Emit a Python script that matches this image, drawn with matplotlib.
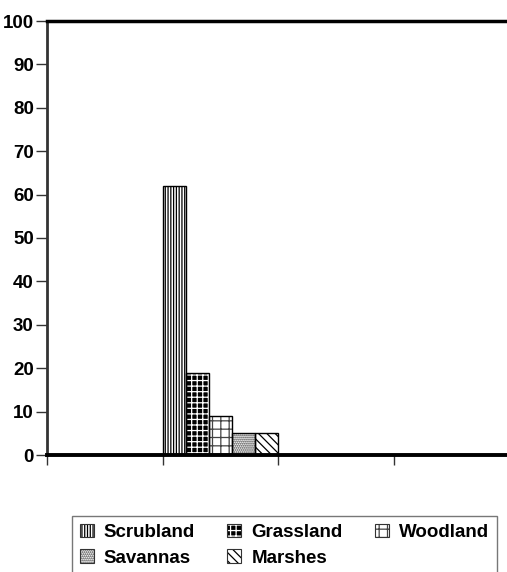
import matplotlib
matplotlib.use("Agg")
import matplotlib.pyplot as plt
import numpy as np

plt.rcParams["font.family"] = ["Liberation Sans", "DejaVu Sans"]
plt.rcParams["hatch.linewidth"] = 0.9

# ---------------------------------------------------------------------------
# Data
# ---------------------------------------------------------------------------
groups = ["", "", "", ""]
series = ["Scrubland", "Grassland", "Woodland", "Savannas", "Marshes"]
scrubland = [0, 62, 0, 0]
grassland = [0, 19, 0, 0]
woodland = [0, 9, 0, 0]
savannas = [0, 5, 0, 0]
marshes = [0, 5, 0, 0]
values = [scrubland, grassland, woodland, savannas, marshes]
y_ticks = [0, 10, 20, 30, 40, 50, 60, 70, 80, 90, 100]

# pattern per series: (face, hatch, hatch colour)
styles = [
    ("white", "||||||", "black"),
    ("black", "+++", "white"),
    ("white", "++", "#444444"),
    ("white", "........", "#333333"),
    ("white", "\\\\\\\\", "black"),
]

W, H, DPI = 507, 572, 100
fig = plt.figure(figsize=(W / DPI, H / DPI), dpi=DPI)
fig.patch.set_facecolor("white")
ax = fig.add_axes([47 / W, (H - 455) / H, 462 / W, 434 / H])

n = len(series)
bw = 1.0 / n
x = np.arange(len(groups))
handles = []
for i, (name, vals) in enumerate(zip(series, values)):
    face, hatch, hcol = styles[i]
    pos = x + i * bw + bw / 2
    ax.bar(pos, vals, width=bw, color=face, edgecolor=hcol, hatch=hatch,
           linewidth=0, zorder=2)
    ax.bar(pos, vals, width=bw, facecolor="none", edgecolor="black",
           linewidth=1.0, zorder=3)
    fill = plt.Rectangle((0, 0), 1, 1, facecolor=face, edgecolor=hcol,
                         hatch=hatch, linewidth=0)
    edge = plt.Rectangle((0, 0), 1, 1, facecolor="none", edgecolor="#333333",
                         linewidth=0.8)
    handles.append((fill, edge))

ax.set_xlim(0, len(groups))
ax.set_ylim(0, 100)
ax.set_xticks(np.arange(len(groups) + 1))
ax.set_xticklabels([])
ax.set_yticks(y_ticks)
ax.set_yticklabels([str(t) for t in y_ticks], fontsize=13.5, fontweight="bold")

ax.spines["right"].set_visible(False)
ax.spines["top"].set_linewidth(2.5)
ax.spines["bottom"].set_linewidth(2.8)
ax.spines["left"].set_linewidth(2)
ax.spines["left"].set_color("#333333")
ax.tick_params(axis="y", length=8, width=1, color="#333333", pad=1.5)
ax.tick_params(axis="x", length=7, width=1, color="#333333")

# legend filled row by row (matplotlib fills column-wise)
ncol = 3
order = [0, 3, 1, 4, 2]
leg = fig.legend([handles[k] for k in order], [series[k] for k in order],
                 loc="upper left", mode="expand", borderaxespad=0,
                 bbox_to_anchor=(72 / W, 0, 425 / W, 1 - 516 / H), ncol=ncol,
                 prop={"size": 13.5, "weight": "bold"},
                 frameon=True, fancybox=False, edgecolor="#555555",
                 handlelength=0.75, handleheight=0.75, handletextpad=0.55,
                 columnspacing=1.0, borderpad=0.4, labelspacing=0.45)
leg.get_frame().set_linewidth(1.0)

fig.savefig("out.png", dpi=DPI, facecolor="white")
